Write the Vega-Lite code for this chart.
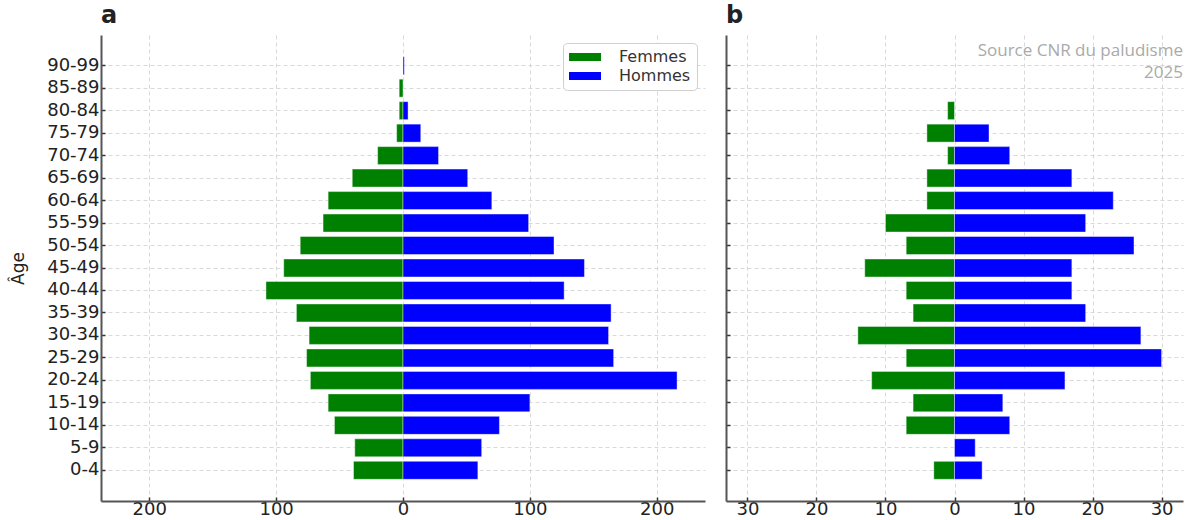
{
  "$schema": "https://vega.github.io/schema/vega-lite/v6.json",
  "background": "white",
  "padding": {"left": 9, "top": 4, "right": 3, "bottom": 0},
  "config": {
    "view": {"stroke": null},
    "font": "DejaVu Sans",
    "axis": {
      "labelFont": "DejaVu Sans", "labelFontSize": 18, "labelColor": "#222",
      "domainColor": "#555", "domainWidth": 2,
      "tickColor": "#333", "tickSize": -4, "tickWidth": 1.5,
      "grid": true,
      "gridColor": "#cfcfcf", "gridDash": [4, 3], "gridWidth": 0.8,
      "zindex": 1,
      "titleFont": "DejaVu Sans", "titleFontSize": 17, "titleFontWeight": "normal", "titleColor": "#222"
    },
    "title": {"anchor": "start", "frame": "group", "fontSize": 24, "fontWeight": "bold", "font": "DejaVu Sans", "color": "#222", "offset": 7},
    "legend": {
      "fillColor": "white", "strokeColor": "#d0d0d0", "cornerRadius": 4, "padding": 6,
      "labelFont": "DejaVu Sans", "labelFontSize": 16, "labelColor": "#333",
      "symbolType": "M-1,-0.5H3V0.5H-1Z", "symbolSize": 256, "symbolStrokeWidth": 0,
      "labelOffset": 34, "rowPadding": 3, "offset": 8, "symbolOpacity": 1
    }
  },
  "datasets": {
    "a": [
      {"age": "90-99", "sexe": "Hommes", "n": 1},
      {"age": "85-89", "sexe": "Femmes", "n": -3},
      {"age": "80-84", "sexe": "Femmes", "n": -3},
      {"age": "80-84", "sexe": "Hommes", "n": 4},
      {"age": "75-79", "sexe": "Femmes", "n": -5},
      {"age": "75-79", "sexe": "Hommes", "n": 14},
      {"age": "70-74", "sexe": "Femmes", "n": -20},
      {"age": "70-74", "sexe": "Hommes", "n": 28},
      {"age": "65-69", "sexe": "Femmes", "n": -40},
      {"age": "65-69", "sexe": "Hommes", "n": 51},
      {"age": "60-64", "sexe": "Femmes", "n": -59},
      {"age": "60-64", "sexe": "Hommes", "n": 70},
      {"age": "55-59", "sexe": "Femmes", "n": -63},
      {"age": "55-59", "sexe": "Hommes", "n": 99},
      {"age": "50-54", "sexe": "Femmes", "n": -81},
      {"age": "50-54", "sexe": "Hommes", "n": 119},
      {"age": "45-49", "sexe": "Femmes", "n": -94},
      {"age": "45-49", "sexe": "Hommes", "n": 143},
      {"age": "40-44", "sexe": "Femmes", "n": -108},
      {"age": "40-44", "sexe": "Hommes", "n": 127},
      {"age": "35-39", "sexe": "Femmes", "n": -84},
      {"age": "35-39", "sexe": "Hommes", "n": 164},
      {"age": "30-34", "sexe": "Femmes", "n": -74},
      {"age": "30-34", "sexe": "Hommes", "n": 162},
      {"age": "25-29", "sexe": "Femmes", "n": -76},
      {"age": "25-29", "sexe": "Hommes", "n": 166},
      {"age": "20-24", "sexe": "Femmes", "n": -73},
      {"age": "20-24", "sexe": "Hommes", "n": 216},
      {"age": "15-19", "sexe": "Femmes", "n": -59},
      {"age": "15-19", "sexe": "Hommes", "n": 100},
      {"age": "10-14", "sexe": "Femmes", "n": -54},
      {"age": "10-14", "sexe": "Hommes", "n": 76},
      {"age": "5-9", "sexe": "Femmes", "n": -38},
      {"age": "5-9", "sexe": "Hommes", "n": 62},
      {"age": "0-4", "sexe": "Femmes", "n": -39},
      {"age": "0-4", "sexe": "Hommes", "n": 59}
    ],
    "b": [
      {"age": "80-84", "sexe": "Femmes", "n": -1},
      {"age": "75-79", "sexe": "Femmes", "n": -4},
      {"age": "75-79", "sexe": "Hommes", "n": 5},
      {"age": "70-74", "sexe": "Femmes", "n": -1},
      {"age": "70-74", "sexe": "Hommes", "n": 8},
      {"age": "65-69", "sexe": "Femmes", "n": -4},
      {"age": "65-69", "sexe": "Hommes", "n": 17},
      {"age": "60-64", "sexe": "Femmes", "n": -4},
      {"age": "60-64", "sexe": "Hommes", "n": 23},
      {"age": "55-59", "sexe": "Femmes", "n": -10},
      {"age": "55-59", "sexe": "Hommes", "n": 19},
      {"age": "50-54", "sexe": "Femmes", "n": -7},
      {"age": "50-54", "sexe": "Hommes", "n": 26},
      {"age": "45-49", "sexe": "Femmes", "n": -13},
      {"age": "45-49", "sexe": "Hommes", "n": 17},
      {"age": "40-44", "sexe": "Femmes", "n": -7},
      {"age": "40-44", "sexe": "Hommes", "n": 17},
      {"age": "35-39", "sexe": "Femmes", "n": -6},
      {"age": "35-39", "sexe": "Hommes", "n": 19},
      {"age": "30-34", "sexe": "Femmes", "n": -14},
      {"age": "30-34", "sexe": "Hommes", "n": 27},
      {"age": "25-29", "sexe": "Femmes", "n": -7},
      {"age": "25-29", "sexe": "Hommes", "n": 30},
      {"age": "20-24", "sexe": "Femmes", "n": -12},
      {"age": "20-24", "sexe": "Hommes", "n": 16},
      {"age": "15-19", "sexe": "Femmes", "n": -6},
      {"age": "15-19", "sexe": "Hommes", "n": 7},
      {"age": "10-14", "sexe": "Femmes", "n": -7},
      {"age": "10-14", "sexe": "Hommes", "n": 8},
      {"age": "5-9", "sexe": "Hommes", "n": 3},
      {"age": "0-4", "sexe": "Femmes", "n": -3},
      {"age": "0-4", "sexe": "Hommes", "n": 4}
    ],
    "source": [
      {"texte": ["Source CNR du paludisme", "2025"]}
    ]
  },
  "spacing": 20,
  "resolve": {"scale": {"color": "shared"}, "legend": {"color": "independent"}},
  "hconcat": [
    {
      "width": 604, "height": 466,
      "title": "a",
      "data": {"name": "a"},
      "mark": {"type": "bar", "stroke": "white", "strokeWidth": 0.6, "strokeOpacity": 0.7},
      "encoding": {
        "y": {
          "field": "age", "type": "nominal",
          "scale": {"domain": ["90-99", "85-89", "80-84", "75-79", "70-74", "65-69", "60-64", "55-59", "50-54", "45-49", "40-44", "35-39", "30-34", "25-29", "20-24", "15-19", "10-14", "5-9", "0-4"], "paddingInner": 0.2, "paddingOuter": 0.965},
          "axis": {"title": "Âge", "bandPosition": 0.5, "labelPadding": 6, "titlePadding": 19, "grid": true}
        },
        "x": {
          "field": "n", "type": "quantitative", "stack": null,
          "scale": {"domain": [-238, 238], "nice": false, "zero": false},
          "axis": {"title": null, "values": [-200, -100, 0, 100, 200], "labelExpr": "abs(datum.value)", "labelPadding": 3}
        },
        "color": {
          "field": "sexe", "type": "nominal",
          "scale": {"domain": ["Femmes", "Hommes"], "range": ["#008000", "#0000ff"]},
          "legend": {"title": null, "orient": "top-right"}
        }
      }
    },
    {
      "width": 457, "height": 466,
      "title": "b",
      "layer": [
        {
          "data": {"name": "b"},
          "mark": {"type": "bar", "stroke": "white", "strokeWidth": 0.6, "strokeOpacity": 0.7},
          "encoding": {
            "y": {
              "field": "age", "type": "nominal",
              "scale": {"domain": ["90-99", "85-89", "80-84", "75-79", "70-74", "65-69", "60-64", "55-59", "50-54", "45-49", "40-44", "35-39", "30-34", "25-29", "20-24", "15-19", "10-14", "5-9", "0-4"], "paddingInner": 0.2, "paddingOuter": 0.965},
              "axis": {"title": null, "labels": false, "bandPosition": 0.5, "grid": true}
            },
            "x": {
              "field": "n", "type": "quantitative", "stack": null,
              "scale": {"domain": [-33.1, 33.1], "nice": false, "zero": false},
              "axis": {"title": null, "values": [-30, -20, -10, 0, 10, 20, 30], "labelExpr": "abs(datum.value)", "labelPadding": 3}
            },
            "color": {
              "field": "sexe", "type": "nominal",
              "scale": {"domain": ["Femmes", "Hommes"], "range": ["#008000", "#0000ff"]},
              "legend": null
            }
          }
        },
        {
          "data": {"name": "source"},
          "mark": {"type": "text", "align": "right", "baseline": "middle", "font": "Open Sans", "fontSize": 17, "color": "#aaaaaa", "lineHeight": 22, "dy": -15},
          "encoding": {
            "x": {"datum": 33.1},
            "y": {"datum": "90-99"},
            "text": {"field": "texte"}
          }
        }
      ]
    }
  ]
}
